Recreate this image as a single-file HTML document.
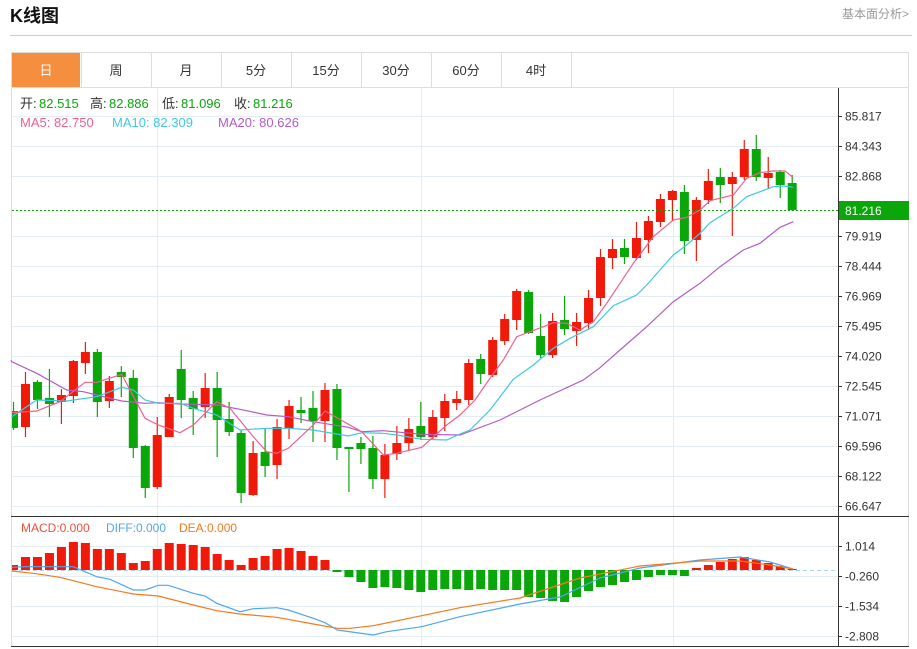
<!DOCTYPE html>
<html><head><meta charset="utf-8"><style>
body{margin:0;background:#fff;width:917px;height:649px;overflow:hidden;font-family:"Liberation Sans","Noto Sans CJK SC",sans-serif;}
</style></head><body>
<svg id="s" width="917" height="649" xmlns="http://www.w3.org/2000/svg" style="position:absolute;left:0;top:0;font-family:'Liberation Sans','Noto Sans CJK SC',sans-serif">
<defs><clipPath id="cp"><rect x="12" y="88" width="826" height="558"/></clipPath></defs>
<text x="10" y="22" font-size="18" font-weight="bold" fill="#111">K线图</text>
<text x="842" y="18" font-size="12" fill="#999">基本面分析&gt;</text>
<line x1="10" y1="35.5" x2="912" y2="35.5" stroke="#ccc"/>
<rect x="11.5" y="52.5" width="897" height="35" fill="#fff" stroke="#ddd"/>
<rect x="12" y="53" width="68" height="34" fill="#f58e3e"/>
<g id="tabs" font-size="13" fill="#333" text-anchor="middle"></g>
<line x1="11.5" y1="88" x2="11.5" y2="646" stroke="#ddd"/>
<line x1="908.5" y1="88" x2="908.5" y2="646" stroke="#ddd"/>
<g id="grid"></g>
<g id="cand" clip-path="url(#cp)"></g>
<g id="ov"></g>
</svg>
<script>
const S=document.getElementById('s'),NS='http://www.w3.org/2000/svg';
function el(p,t,a,txt){const e=document.createElementNS(NS,t);for(const k in a)e.setAttribute(k,a[k]);if(txt!==undefined)e.textContent=txt;(typeof p=='string'?document.getElementById(p):p).appendChild(e);return e;}
const tabs=['日','周','月','5分','15分','30分','60分','4时'];
tabs.forEach((t,i)=>{el('tabs','text',{x:46+70*i,y:75,fill:i==0?'#fff':'#333'},t);if(i>0)el('tabs','line',{x1:11+70*i+.5,y1:53,x2:11+70*i+.5,y2:87,stroke:'#ddd'});});
el('tabs','line',{x1:571.5,y1:53,x2:571.5,y2:87,stroke:'#ddd'});
const pt=[[85.817,116],[84.343,146],[82.868,176],[79.919,236],[78.444,266],[76.969,296],[75.495,326],[74.020,356],[72.545,386],[71.071,416],[69.596,446],[68.122,476],[66.647,506]];
const mt=[['1.014',546],['-0.260',576],['-1.534',606],['-2.808',636]];
const gc='#e3edf3';
[...pt.map(p=>[p[0].toFixed(3),p[1]]),...mt].forEach(([l,y])=>{
 el('grid','line',{x1:12,y1:y+.5,x2:838,y2:y+.5,stroke:gc});
 el('grid','line',{x1:838,y1:y+.5,x2:842,y2:y+.5,stroke:'#333'});
 el('grid','text',{x:845,y:y+4.5,'font-size':12,fill:'#333'},l);
});
[157,421,673].forEach(x=>el('grid','line',{x1:x+.5,y1:88,x2:x+.5,y2:646,stroke:gc}));
el('grid','line',{x1:838.5,y1:88,x2:838.5,y2:646,stroke:'#333'});
el('grid','line',{x1:11,y1:516.5,x2:909,y2:516.5,stroke:'#333'});
el('grid','line',{x1:11,y1:646.5,x2:909,y2:646.5,stroke:'#333'});
el('grid','line',{x1:12,y1:570.5,x2:838,y2:570.5,stroke:'#a8d4ee','stroke-dasharray':'4,3'});
const R='#f01a0a',G='#0aa60a';
const C=`0 g 411 428 402 430
1 r 384 427 372 437
2 g 382 400 380 409
3 g 398 404 369 417
4 r 395 402 389 424
5 r 361 396 360 403
6 r 352 363 342 374
7 g 352 402 349 417
8 r 381 401 376 408
9 g 372 377 366 397
10 g 378 448 370 458
11 g 446 488 445 498
12 r 435 487 417 489
13 r 397 437 394 437
14 g 369 400 350 418
15 g 398 409 391 435
16 r 388 407 373 418
17 g 388 420 372 457
18 g 419 432 402 436
19 g 433 493 430 503
20 r 453 495 441 496
21 g 452 466 428 477
22 r 427 465 419 479
23 r 406 428 400 439
24 g 410 413 397 423
25 g 408 421 391 442
26 r 390 421 383 442
27 g 389 448 384 460
28 g 447 449 447 492
29 g 443 449 437 464
30 g 448 479 436 489
31 r 455 479 444 498
32 r 443 454 426 460
33 r 429 443 418 451
34 g 426 437 402 440
35 r 417 437 410 440
36 r 401 418 394 431
37 r 399 403 391 410
38 r 363 400 359 405
39 g 359 374 354 384
40 r 340 375 337 377
41 r 319 341 314 345
42 r 291 320 289 330
43 g 292 333 290 334
44 g 336 355 314 358
45 r 321 355 313 358
46 g 320 329 296 335
47 r 322 331 313 346
48 r 298 323 290 330
49 r 257 298 249 306
50 r 249 258 239 269
51 g 248 257 239 264
52 r 238 258 222 260
53 r 221 240 216 253
54 r 199 222 194 227
55 r 191 200 190 221
56 g 192 241 185 254
57 r 200 240 197 261
58 r 181 200 169 204
59 g 177 185 168 203
60 r 177 184 172 236
61 r 149 177 140 180
62 g 149 177 135 181
63 r 173 178 157 189
64 g 172 185 170 198
65 g 183 210 175 211`.split('\n').map(l=>l.split(' '));
const X=i=>13.5+11.98*i;
C.forEach(([i,c,a,b,h,l])=>{const x=X(+i),col=c=='r'?R:G;
 el('cand','line',{x1:x,y1:h,x2:x,y2:l,stroke:col,'stroke-width':1.2});
 el('cand','rect',{x:x-4.5,y:+a,width:9,height:Math.max(1,b-a),fill:col});});
const M=`565 557 557 553 547 542 543 549 549 553 563 561 549 543 544 545 547 554 560 565 558 556 549 548 551 556 560 572 577 582 588 587 588 590 592 590 589 589 590 589 590 590 590 597 598 601 602 597 591 587 585 582 580 577 575 575 576 568 565 562 559 557 560 563 566 569`.split(' ').map(Number);
M.forEach((y,i)=>{const x=X(i);const t=Math.min(y,570),h=Math.abs(y-570);if(h<1)return;el('cand','rect',{x:x-4.5,y:t,width:9,height:h,fill:y<570?R:G});});
function line(pts,col,sx,sy,ox,oy){el('ov','polyline',{points:pts.map(p=>(ox+p[0]/sx).toFixed(1)+','+(oy+p[1]/sy).toFixed(1)).join(' '),fill:'none',stroke:col,'stroke-width':1.2});}
function z2(a){const r=[];for(let i=0;i<a.length;i+=2)r.push([a[i]/3,340+a[i+1]/3]);return r;}
function z3(a){const r=[];for(let i=0;i<a.length;i+=2)r.push([460+a[i]/3,130+a[i+1]/3]);return r;}
function P(pts,col){line(pts,col,1,1,0,0);}
P([[11,360],...z2([35,65,110,100,200,150,250,155,290,165,365,183,435,190,475,188,540,192,580,193,650,195,720,208,800,225,865,230,940,245,1045,262,1085,275,1150,272,1265,283,1380,285]),[500,420],[540,400],...z3([370,750,420,713,480,660,560,590,640,515,720,460,780,410,850,360,900,340,960,292,1000,275])],'#b35cc9');
P([...z2([35,230,110,180,200,183,290,170,365,142,400,150,435,180,475,190,540,190,580,205,650,225,720,270,800,265,865,265,940,270,1045,288,1085,278,1150,280,1190,285,1265,298,1340,300,1380,282]),[470,430],[490,410],...z3([160,748,220,705,280,655,330,625,400,590,460,527,530,495,560,465,640,375,680,345,720,310,750,278,820,235,860,200,900,185,940,170,975,168,1000,172])],'#40c8e0');
P([...z2([35,218,110,213,180,185,255,127,290,127,365,103,435,235,475,255,540,278,580,255,650,185,690,205,760,290,800,335,830,340,865,325,940,255,975,213,1085,275,1150,345,1190,340,1265,322,1340,255,1380,225]),[475,400],...z3([90,745,130,690,170,620,250,590,280,578,320,580,360,600,400,575,440,520,520,400,580,320,640,270,680,262,720,240,750,212,820,195,860,145,900,128,940,123,975,123,1000,143])],'#f0608c');
P([...z2([35,682,70,680,220,680,290,710,330,718,400,750,435,750,475,736,505,736,580,760,615,768,650,790,720,815,760,806,830,803,865,810,940,835,975,848,1012,870,1120,885,1160,875,1265,860,1380,830]),[520,604],[560,597],[600,578],[640,568],[700,560],[740,557],[770,562],[793,569]],'#4ea6f0');
P([...z2([35,693,100,700,180,712,290,740,400,762,475,768,580,795,650,812,720,822,830,832,940,852,1012,865,1050,865,1120,857,1265,827,1380,803]),[520,598],[580,578],[640,566],[700,561],[740,561],[770,565],[793,569]],'#f47a1e');
el('ov','line',{x1:12,y1:210.5,x2:838,y2:210.5,stroke:'#0aa60a','stroke-dasharray':'2,2'});
el('ov','rect',{x:839,y:201,width:70,height:19,fill:'#0aa60a'});
el('ov','text',{x:845,y:215,'font-size':12,fill:'#fff'},'81.216');
const L=[[[20,'开:','#333'],[39,'82.515',G],[90,'高:','#333'],[109,'82.886',G],[162,'低:','#333'],[181,'81.096',G],[234,'收:','#333'],[253,'81.216',G]],
[[20,'MA5: 82.750','#f0608c'],[112,'MA10: 82.309','#40c8e0'],[218,'MA20: 80.626','#b35cc9']]];
L[0].forEach(([x,t,c])=>el('ov','text',{x,y:108,'font-size':13,fill:c},t));
L[1].forEach(([x,t,c])=>el('ov','text',{x,y:127,'font-size':13,fill:c},t));
el('ov','text',{x:21,y:532,'font-size':12,fill:'#f0503a'},'MACD:0.000');
el('ov','text',{x:106,y:532,'font-size':12,fill:'#4ea6f0'},'DIFF:0.000');
el('ov','text',{x:179,y:532,'font-size':12,fill:'#f47a1e'},'DEA:0.000');
</script>
</body></html>
